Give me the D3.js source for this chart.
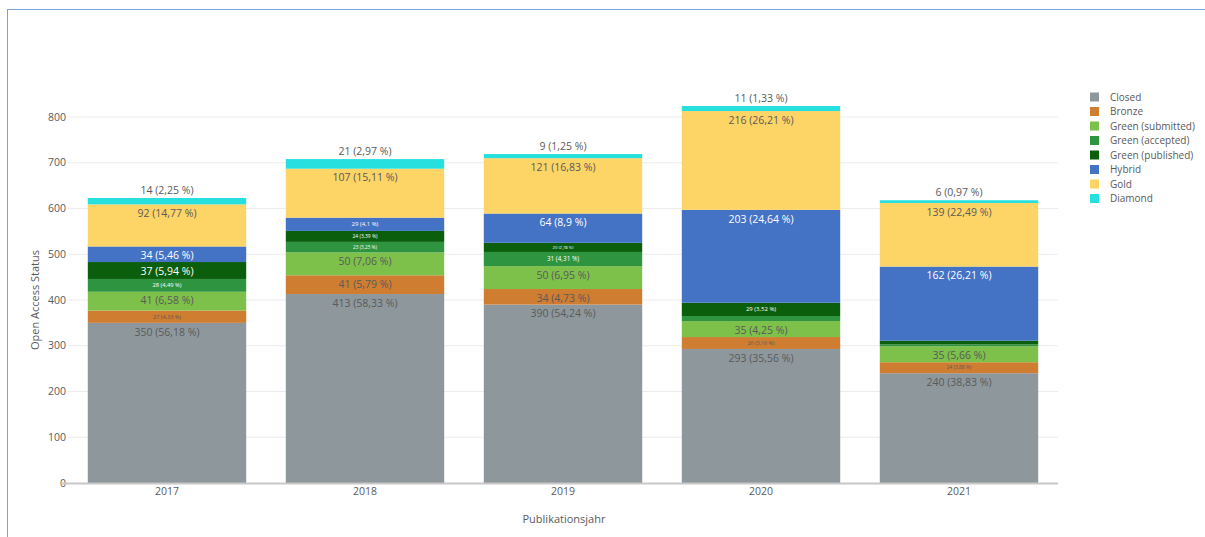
<!DOCTYPE html>
<html>
<head>
<meta charset="utf-8">
<script src="https://cdn.jsdelivr.net/npm/d3@7"></script>
<style>
  body { margin: 0; background: #fff; }
  svg { display: block; font-family: "Open Sans", "DejaVu Sans", sans-serif; }
</style>
</head>
<body>
<svg id="chart" width="1205" height="537"></svg>
<script>
// Open Access status per publication year (stacked counts)
const years = ["2017", "2018", "2019", "2020", "2021"];
const statuses = ["Closed", "Bronze", "Green (submitted)", "Green (accepted)",
  "Green (published)", "Hybrid", "Gold", "Diamond"];
const colors = ["#8e979c", "#cf7d31", "#7dc04a", "#2e9440", "#0b5e0c",
  "#4472c4", "#fdd466", "#26e0e0"];

const closed = [350, 413, 390, 293, 240];
const bronze = [27, 41, 34, 26, 24];
const greenSubmitted = [41, 50, 50, 35, 35];
const greenAccepted = [28, 23, 31, 11, 4];
const greenPublished = [37, 24, 20, 29, 8];
const hybrid = [34, 29, 64, 203, 162];
const gold = [92, 107, 121, 216, 139];
const diamond = [14, 21, 9, 11, 6];

const yTicks = [0, 100, 200, 300, 400, 500, 600, 700, 800];

const series = [closed, bronze, greenSubmitted, greenAccepted,
  greenPublished, hybrid, gold, diamond];
// labels on dark fills are white
const darkFill = [false, false, false, true, true, true, false, false];

const svg = d3.select("#chart");

// card frame
svg.append("rect")
  .attr("x", 7.5).attr("y", 9.5)
  .attr("width", 1300).attr("height", 600)
  .attr("fill", "none")
  .attr("stroke", "#7ba4d8")
  .attr("stroke-width", 1);

const x = d3.scaleBand()
  .domain(years)
  .range([68, 1058])
  .paddingInner(0.2)
  .paddingOuter(0.1);

const y = d3.scaleLinear()
  .domain([0, 800])
  .range([483, 117]);

// grid
svg.append("g")
  .selectAll("line")
  .data(yTicks.filter((d) => d > 0))
  .join("line")
  .attr("x1", 68).attr("x2", 1058)
  .attr("y1", (d) => y(d)).attr("y2", (d) => y(d))
  .attr("stroke", "#ececec");

// y tick labels
svg.append("g")
  .selectAll("text")
  .data(yTicks)
  .join("text")
  .attr("x", 66)
  .attr("y", (d) => y(d))
  .attr("dy", "0.35em")
  .attr("text-anchor", "end")
  .attr("font-size", 10.5)
  .attr("fill", "#5a5a5a")
  .text((d) => d);

// stack
const rows = years.map((yr, i) => {
  const r = { year: yr };
  statuses.forEach((s, k) => (r[s] = series[k][i]));
  return r;
});
const totals = years.map((yr, i) => d3.sum(series, (s) => s[i]));
const stacked = d3.stack().keys(statuses)(rows);

const layers = svg.append("g")
  .selectAll("g")
  .data(stacked)
  .join("g")
  .attr("fill", (d, k) => colors[k]);

layers.selectAll("rect")
  .data((d) => d)
  .join("rect")
  .attr("x", (d) => x(d.data.year))
  .attr("width", x.bandwidth())
  .attr("y", (d) => y(d[1]))
  .attr("height", (d) => y(d[0]) - y(d[1]));

// zero line
svg.append("line")
  .attr("x1", 61).attr("x2", 1058)
  .attr("y1", y(0) + 0.5).attr("y2", y(0) + 0.5)
  .attr("stroke", "#c8c8c8")
  .attr("stroke-width", 2);

// segment labels
const fmt = (v, i) => {
  const p = Math.round((v / totals[i]) * 10000) / 100;
  return `${v} (${String(p).replace(".", ",")} %)`;
};

const labels = svg.append("g").attr("text-anchor", "middle");
stacked.forEach((layer, k) => {
  layer.forEach((d, i) => {
    const v = series[k][i];
    const top = y(d[1]);
    const h = y(d[0]) - top;
    const cx = x(d.data.year) + x.bandwidth() / 2;
    if (k === statuses.length - 1) {
      // top trace: label sits above the bar
      labels.append("text")
        .attr("x", cx).attr("y", top - 8)
        .attr("dy", "0.35em")
        .attr("font-size", 10.5)
        .attr("fill", "#5a5a5a")
        .text(fmt(v, i));
      return;
    }
    let fs = h >= 15 ? 10.5 : h * 0.45;
    if (fs < 2.4) return;
    const ly = h >= 15 ? top + 9 : top + h / 2;
    labels.append("text")
      .attr("x", cx).attr("y", ly)
      .attr("dy", "0.35em")
      .attr("font-size", fs)
      .attr("fill", darkFill[k] ? "#fff" : "#5a5a5a")
      .text(fmt(v, i));
  });
});

// x tick labels
svg.append("g")
  .selectAll("text")
  .data(years)
  .join("text")
  .attr("x", (d) => x(d) + x.bandwidth() / 2)
  .attr("y", 495)
  .attr("text-anchor", "middle")
  .attr("font-size", 10.5)
  .attr("fill", "#5a5a5a")
  .text((d) => d);

// axis titles
svg.append("text")
  .attr("x", 564).attr("y", 523)
  .attr("text-anchor", "middle")
  .attr("font-size", 11)
  .attr("fill", "#5a5a5a")
  .text("Publikationsjahr");

svg.append("text")
  .attr("transform", `translate(39,${y(400)}) rotate(-90)`)
  .attr("text-anchor", "middle")
  .attr("font-size", 11)
  .attr("fill", "#5a5a5a")
  .text("Open Access Status");

// legend
const legend = svg.append("g")
  .selectAll("g")
  .data(statuses)
  .join("g")
  .attr("transform", (d, k) => `translate(1090,${97 + k * 14.5})`);

legend.append("rect")
  .attr("x", 0).attr("y", -4.5)
  .attr("width", 9).attr("height", 9)
  .attr("fill", (d, k) => colors[k]);

legend.append("text")
  .attr("x", 20).attr("y", 0)
  .attr("dy", "0.35em")
  .attr("font-size", 10)
  .attr("fill", "#5a5a5a")
  .text((d) => d);
</script>
</body>
</html>
